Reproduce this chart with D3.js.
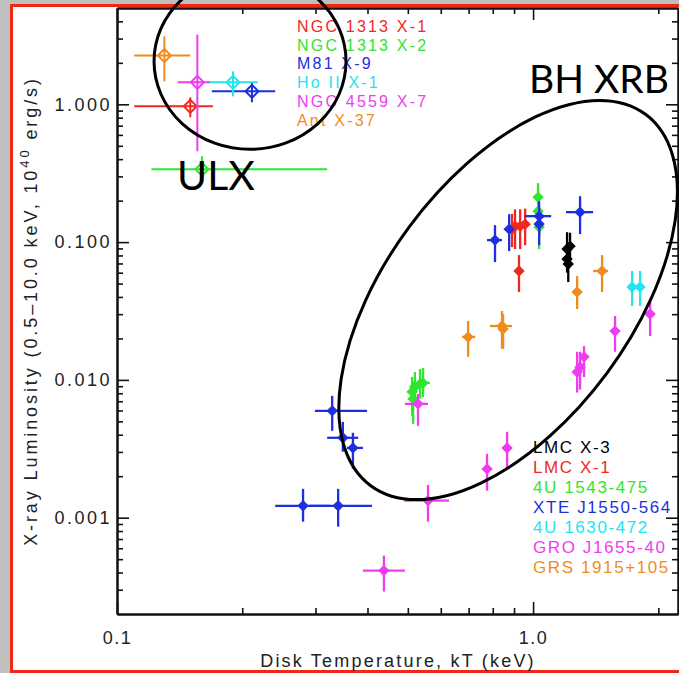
<!DOCTYPE html>
<html>
<head>
<meta charset="utf-8">
<script src="https://cdn.jsdelivr.net/npm/d3@7"></script>
<style>
  html, body { margin: 0; padding: 0; background: #bfbfbf; overflow: hidden; }
  svg { display: block; }
  text { font-family: "Liberation Sans", Arial, sans-serif; }
</style>
</head>
<body>
<div id="chart"></div>
<script>
// rows: [kT, kT low, kT high, L, L low, L high]   (kT in keV, L in 1e40 erg/s)
var ulxNames = ["NGC 1313 X-1", "NGC 1313 X-2", "M81 X-9", "Ho II X-1", "NGC 4559 X-7", "Ant X-37"];
var ulxColors = ["#f0281e", "#2ee62e", "#1f2fe0", "#22e5f0", "#f03cf0", "#f08c1e"];
var ulxPoints = [
    [0.150, 0.110, 0.170, 0.967, 0.805, 1.124],
    [0.160, 0.121, 0.320, 0.338, 0.272, 0.420],
    [0.211, 0.169, 0.240, 1.242, 1.034, 1.443],
    [0.190, 0.165, 0.218, 1.443, 1.143, 1.735],
    [0.156, 0.140, 0.167, 1.443, 0.457, 3.210],
    [0.130, 0.110, 0.150, 2.260, 1.470, 3.110]
];

var xrbNames = ["LMC X-3", "LMC X-1", "4U 1543-475", "XTE J1550-564", "4U 1630-472", "GRO J1655-40", "GRS 1915+105"];
var xrbColors = ["#000000", "#f0281e", "#2ee62e", "#1f2fe0", "#22e5f0", "#f03cf0", "#f08c1e"];

var lmcX3Pts = [
    [1.207, 1.190, 1.225, 0.0890, 0.0720, 0.1180],
    [1.227, 1.210, 1.245, 0.0935, 0.0750, 0.1170],
    [1.207, 1.190, 1.225, 0.0753, 0.0600, 0.0950],
    [1.215, 1.200, 1.230, 0.0693, 0.0513, 0.0850]
];
var lmcX1Pts = [
    [0.890, 0.880, 0.900, 0.1240, 0.0920, 0.1600],
    [0.905, 0.895, 0.915, 0.1306, 0.0890, 0.1730],
    [0.931, 0.920, 0.940, 0.1306, 0.0890, 0.1730],
    [0.957, 0.945, 0.970, 0.1350, 0.0950, 0.1750],
    [0.925, 0.915, 0.935, 0.0617, 0.0434, 0.0805]
];
var u1543Pts = [
    [1.028, 1.015, 1.040, 0.2119, 0.1650, 0.2680],
    [1.028, 1.010, 1.045, 0.1677, 0.1300, 0.2100],
    [1.034, 1.020, 1.050, 0.1285, 0.0890, 0.1470],
    [0.512, 0.500, 0.525, 0.00819, 0.0055, 0.0105],
    [0.520, 0.505, 0.535, 0.00890, 0.0070, 0.0114],
    [0.535, 0.520, 0.550, 0.00935, 0.0073, 0.0120],
    [0.544, 0.530, 0.565, 0.00951, 0.0075, 0.0122],
    [0.515, 0.500, 0.530, 0.00728, 0.0048, 0.0097]
];
var xteJ1550Pts = [
    [0.810, 0.775, 0.842, 0.1034, 0.0716, 0.1328],
    [0.876, 0.866, 0.895, 0.1242, 0.0861, 0.1596],
    [1.034, 0.957, 1.105, 0.1543, 0.1105, 0.1980],
    [1.034, 1.020, 1.050, 0.1351, 0.0950, 0.1650],
    [1.297, 1.200, 1.394, 0.1650, 0.1143, 0.2154],
    [0.329, 0.299, 0.399, 0.00596, 0.00427, 0.00766],
    [0.349, 0.320, 0.380, 0.00380, 0.00301, 0.00496],
    [0.369, 0.357, 0.390, 0.00321, 0.00226, 0.00413],
    [0.280, 0.240, 0.325, 0.00122, 0.000935, 0.00162],
    [0.340, 0.291, 0.410, 0.00122, 0.000861, 0.00162]
];
var u1630Pts = [
    [1.730, 1.710, 1.750, 0.0472, 0.0344, 0.0617],
    [1.808, 1.790, 1.830, 0.0472, 0.0344, 0.0617]
];
var groJ1655Pts = [
    [0.529, 0.492, 0.559, 0.00670, 0.00464, 0.00792],
    [0.559, 0.490, 0.628, 0.00133, 0.000935, 0.00173],
    [0.438, 0.390, 0.492, 0.000413, 0.000291, 0.000530],
    [0.775, 0.758, 0.797, 0.00226, 0.00157, 0.00291],
    [0.866, 0.847, 0.876, 0.00321, 0.00226, 0.00420],
    [1.276, 1.260, 1.290, 0.0114, 0.0081, 0.0160],
    [1.297, 1.280, 1.310, 0.0124, 0.0085, 0.0160],
    [1.326, 1.310, 1.340, 0.0147, 0.0105, 0.0176],
    [1.574, 1.560, 1.590, 0.0226, 0.0160, 0.0291],
    [1.911, 1.880, 1.940, 0.0301, 0.0208, 0.0386]
];
var grs1915Pts = [
    [1.465, 1.394, 1.515, 0.0617, 0.0434, 0.0805],
    [1.276, 1.260, 1.290, 0.0434, 0.0327, 0.0567],
    [0.698, 0.675, 0.726, 0.0205, 0.0147, 0.0268],
    [0.842, 0.788, 0.890, 0.0246, 0.0168, 0.0316],
    [0.847, 0.830, 0.860, 0.0234, 0.0168, 0.0300]
];
var xrbPoints = [lmcX3Pts, lmcX1Pts, u1543Pts, xteJ1550Pts, u1630Pts, groJ1655Pts, grs1915Pts];

var xDomain = [0.1, 2.23];
var yDomain = [0.0002, 5];
var xMajorTicks = [0.1, 1.0];
var xTickLabels = ["0.1", "1.0"];
var yMajorTicks = [0.001, 0.01, 0.1, 1];
var yTickLabels = ["0.001", "0.010", "0.100", "1.000"];

// annotation ellipses: centre in data units
var ulxRegion = { label: "ULX", kT: 0.2088, L: 2.05 };
var xrbRegion = { label: "BH XRB", kT: 0.871, L: 0.038 };

function minorTicks(lo, hi) {
    var out = [];
    for (var e = Math.floor(Math.log10(lo)); e <= Math.ceil(Math.log10(hi)); e++) {
        for (var m = 2; m <= 9; m++) {
            var v = m * Math.pow(10, e);
            if (v > lo && v < hi) out.push(v);
        }
    }
    return out;
}

function makeLumPlot(divID) {
    var width = 679, height = 673;
    var left = 117, right = 678, top = 8, bottom = 614;

    var svg = d3.select("#" + divID).append("svg")
        .attr("width", width)
        .attr("height", height);

    // white page with red frame
    svg.append("rect")
        .attr("x", 11.5).attr("y", 5.5)
        .attr("width", 720).attr("height", 666)
        .attr("fill", "#ffffff")
        .attr("stroke", "#ee2a12")
        .attr("stroke-width", 3);

    var x = d3.scaleLog().domain(xDomain).range([left, right]);
    var y = d3.scaleLog().domain(yDomain).range([bottom, top]);

    var xMinor = minorTicks(xDomain[0], xDomain[1]);
    var yMinor = minorTicks(yDomain[0], yDomain[1]);

    function styleAxis(g) {
        g.selectAll("path.domain").attr("stroke", "#111").attr("stroke-width", 2);
        g.selectAll(".tick line").attr("stroke", "#111").attr("stroke-width", 1.6);
    }

    // minor ticks, all four sides
    svg.append("g").attr("transform", "translate(0," + bottom + ")")
        .call(d3.axisBottom(x).tickValues(xMinor).tickSize(-6).tickSizeOuter(0).tickFormat(""))
        .call(styleAxis);
    svg.append("g").attr("transform", "translate(0," + top + ")")
        .call(d3.axisTop(x).tickValues(xMinor).tickSize(-6).tickSizeOuter(0).tickFormat(""))
        .call(styleAxis);
    svg.append("g").attr("transform", "translate(" + left + ",0)")
        .call(d3.axisLeft(y).tickValues(yMinor).tickSize(-6).tickSizeOuter(0).tickFormat(""))
        .call(styleAxis);
    svg.append("g").attr("transform", "translate(" + right + ",0)")
        .call(d3.axisRight(y).tickValues(yMinor).tickSize(-6).tickSizeOuter(0).tickFormat(""))
        .call(styleAxis);

    // major ticks + labels
    var xAxis = svg.append("g").attr("transform", "translate(0," + bottom + ")")
        .call(d3.axisBottom(x).tickValues(xMajorTicks).tickSize(-12).tickSizeOuter(0).tickPadding(17)
            .tickFormat(function (d, i) { return xTickLabels[i]; }))
        .call(styleAxis);
    svg.append("g").attr("transform", "translate(0," + top + ")")
        .call(d3.axisTop(x).tickValues(xMajorTicks).tickSize(-12).tickSizeOuter(0).tickFormat(""))
        .call(styleAxis);
    var yAxis = svg.append("g").attr("transform", "translate(" + left + ",0)")
        .call(d3.axisLeft(y).tickValues(yMajorTicks).tickSize(-12).tickSizeOuter(0).tickPadding(5)
            .tickFormat(function (d, i) { return yTickLabels[i]; }))
        .call(styleAxis);
    svg.append("g").attr("transform", "translate(" + right + ",0)")
        .call(d3.axisRight(y).tickValues(yMajorTicks).tickSize(-12).tickSizeOuter(0).tickFormat(""))
        .call(styleAxis);

    xAxis.selectAll("text").attr("font-size", 18).attr("fill", "#222")
        .style("font-family", "Liberation Sans, Arial, sans-serif").style("letter-spacing", "1.5px");
    yAxis.selectAll("text").attr("font-size", 18).attr("fill", "#222")
        .style("font-family", "Liberation Sans, Arial, sans-serif").style("letter-spacing", "2.5px");

    // axis titles
    svg.append("text")
        .attr("x", 398).attr("y", 667)
        .attr("text-anchor", "middle")
        .attr("font-size", 18).attr("fill", "#222")
        .style("letter-spacing", "2.2px")
        .text("Disk Temperature, kT (keV)");

    var yTitle = svg.append("text")
        .attr("transform", "translate(37,311) rotate(-90)")
        .attr("text-anchor", "middle")
        .attr("font-size", 18).attr("fill", "#222")
        .style("letter-spacing", "2.9px");
    yTitle.append("tspan").text("X-ray Luminosity (0.5\u201310.0 keV, 10");
    yTitle.append("tspan").attr("dy", -8).attr("font-size", 13).text("40");
    yTitle.append("tspan").attr("dy", 8).text(" erg/s)");

    var diamondBig = d3.symbol().type(d3.symbolSquare).size(84);
    var diamondSmall = d3.symbol().type(d3.symbolSquare).size(50);

    function drawSeries(rows, color, sym, filled, barWidth) {
        var g = svg.append("g");
        g.selectAll(".hbar").data(rows).enter().append("line")
            .attr("x1", function (d) { return x(d[1]); })
            .attr("x2", function (d) { return x(d[2]); })
            .attr("y1", function (d) { return y(d[3]); })
            .attr("y2", function (d) { return y(d[3]); })
            .attr("stroke", color).attr("stroke-width", barWidth);
        g.selectAll(".vbar").data(rows).enter().append("line")
            .attr("x1", function (d) { return x(d[0]); })
            .attr("x2", function (d) { return x(d[0]); })
            .attr("y1", function (d) { return y(d[4]); })
            .attr("y2", function (d) { return y(d[5]); })
            .attr("stroke", color).attr("stroke-width", barWidth);
        g.selectAll(".pt").data(rows).enter().append("path")
            .attr("d", sym)
            .attr("transform", function (d) { return "translate(" + x(d[0]) + "," + y(d[3]) + ") rotate(45)"; })
            .attr("fill", filled ? color : "none")
            .attr("stroke", color)
            .attr("stroke-width", filled ? 1 : 2);
    }

    xrbPoints.forEach(function (rows, i) {
        drawSeries(rows, xrbColors[i], diamondSmall, true, 2.3);
    });
    ulxPoints.forEach(function (row, i) {
        drawSeries([row], ulxColors[i], diamondBig, false, 2);
    });

    // legends
    svg.append("g").selectAll("text").data(ulxNames).enter().append("text")
        .attr("x", 297)
        .attr("y", function (d, i) { return 32 + i * 18.7; })
        .attr("font-size", 16)
        .style("letter-spacing", "2.2px")
        .attr("fill", function (d, i) { return ulxColors[i]; })
        .text(function (d) { return d; });

    svg.append("g").selectAll("text").data(xrbNames).enter().append("text")
        .attr("x", 533)
        .attr("y", function (d, i) { return 453 + i * 20; })
        .attr("font-size", 17)
        .style("letter-spacing", "1.6px")
        .attr("fill", function (d, i) { return xrbColors[i]; })
        .text(function (d) { return d; });

    // annotation ellipses and labels
    svg.append("ellipse")
        .attr("cx", x(ulxRegion.kT)).attr("cy", y(ulxRegion.L))
        .attr("rx", 96).attr("ry", 88)
        .attr("fill", "none").attr("stroke", "#000").attr("stroke-width", 3);
    var ex = x(xrbRegion.kT), ey = y(xrbRegion.L);
    svg.append("ellipse")
        .attr("cx", ex).attr("cy", ey)
        .attr("rx", 231).attr("ry", 123)
        .attr("transform", "rotate(-53.5," + ex + "," + ey + ")")
        .attr("fill", "none").attr("stroke", "#000").attr("stroke-width", 3);

    svg.append("text")
        .attr("x", 177).attr("y", 190)
        .attr("font-size", 41)
        .style("font-family", "Lato, 'Open Sans', sans-serif")
        .attr("fill", "#000")
        .text(ulxRegion.label);
    svg.append("text")
        .attr("x", 529).attr("y", 93)
        .attr("font-size", 39)
        .style("font-family", "Lato, 'Open Sans', sans-serif")
        .attr("fill", "#000")
        .text(xrbRegion.label);
}

makeLumPlot("chart");
</script>
</body>
</html>
